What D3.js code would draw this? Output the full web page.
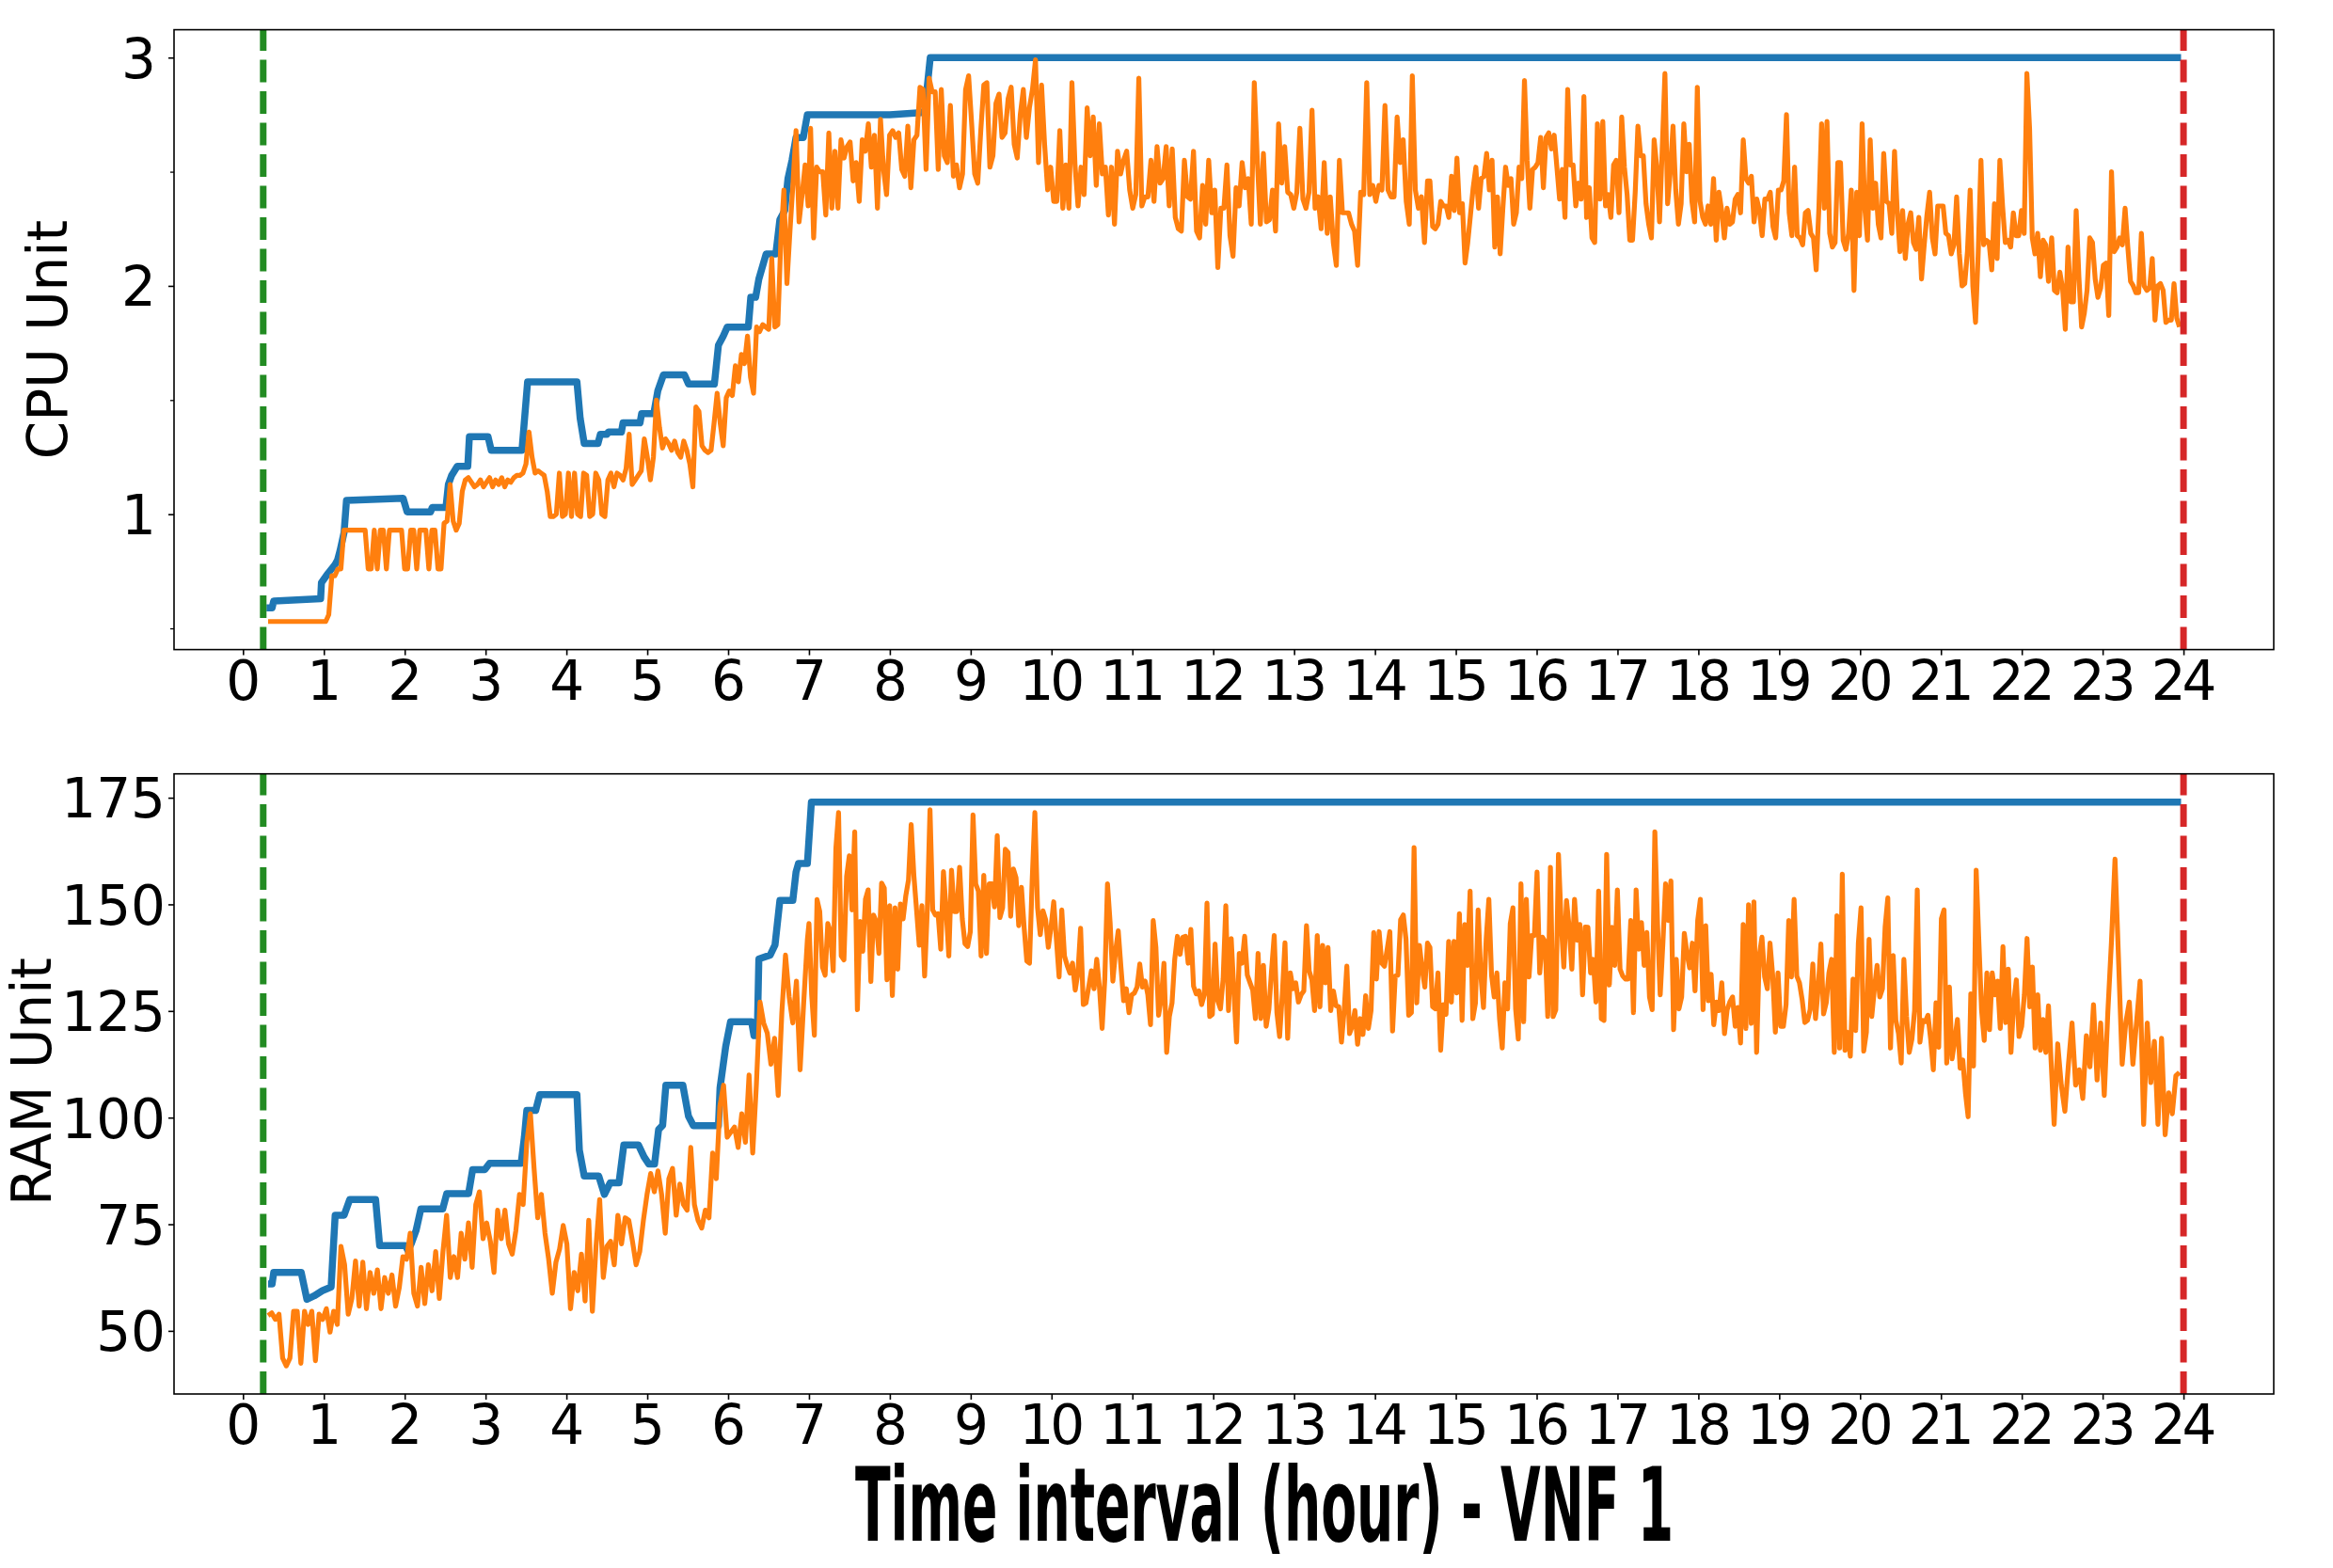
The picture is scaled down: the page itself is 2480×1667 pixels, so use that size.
<!DOCTYPE html>
<html>
<head>
<meta charset="utf-8">
<script src="https://cdnjs.cloudflare.com/ajax/libs/d3/7.8.5/d3.min.js"></script>
<style>
    body { margin: 0; background: #fff; }
    text { font-family: "DejaVu Sans", sans-serif; }
</style>
</head>
<body>
<script>
// ---------------------------------------------------------------------------
// VNF 1 - allocated capacity (blue) vs. measured usage (orange) over a day
// ---------------------------------------------------------------------------

// hour ticks on both x axes
var hourTicks = d3.range(0, 25);
// deployment start / end markers (hour)
var vnfStart = 0.25, vnfEnd = 24.0;

// allocated CPU, [hour, units] break points of the step curve
var cpuCap = [[0.29,0.59],[0.36,0.59],[0.38,0.62],[0.96,0.63],[0.97,0.70],[1.05,0.74],
    [1.14,0.78],[1.17,0.80],[1.20,0.84],[1.25,0.92],[1.28,1.06],[1.98,1.07],[2.03,1.01],
    [2.32,1.01],[2.34,1.03],[2.51,1.03],[2.54,1.13],[2.58,1.17],[2.65,1.21],[2.78,1.21],
    [2.80,1.34],[3.03,1.34],[3.07,1.28],[3.45,1.28],[3.52,1.58],[4.13,1.58],[4.17,1.42],
    [4.22,1.31],[4.39,1.31],[4.42,1.35],[4.50,1.35],[4.52,1.36],[4.68,1.36],[4.70,1.40],
    [4.91,1.40],[4.93,1.44],[5.08,1.44],[5.13,1.54],[5.20,1.61],[5.46,1.61],[5.51,1.57],
    [5.83,1.57],[5.88,1.74],[5.94,1.78],[5.99,1.82],[6.25,1.82],[6.28,1.95],[6.34,1.95],
    [6.38,2.03],[6.47,2.14],[6.59,2.14],[6.64,2.29],[6.70,2.33],[6.74,2.47],[6.79,2.55],
    [6.84,2.65],[6.93,2.65],[6.98,2.75],[8.00,2.75],[8.43,2.76],[8.50,3.00],[23.97,3.00]];

// measured CPU usage, read in four stretches (hour spans below)
var cpuSpans = [[0.31, 6.99], [7.02, 14.65], [14.68, 22.33], [22.37, 23.95]];
var cpuUseA = [0.53,0.53,0.53,0.53,0.53,0.53,0.53,0.53,0.53,0.53,
    0.53,0.53,0.53,0.53,0.53,0.53,0.53,0.53,0.53,0.53,
    0.56,0.73,0.73,0.76,0.76,0.93,
    0.93,0.93,0.93,0.93,0.93,0.93,0.93,0.76,0.76,0.93,0.76,0.93,0.93,0.76,0.93,0.93,
    0.93,0.93,0.93,0.76,0.76,0.93,0.93,0.76,0.93,0.93,0.93,0.76,0.93,0.93,0.76,0.76,
    0.96,0.97,1.13,0.97,0.93,0.96,1.10,1.15,
    1.16,1.14,1.12,1.13,1.15,1.12,1.14,1.16,1.12,1.15,1.13,1.16,1.12,1.15,1.14,1.16,1.17,1.17,
    1.18,1.22,1.36,1.25,1.18,1.19,1.18,1.17,1.10,0.99,
    0.99,1.00,1.18,0.99,1.00,1.18,0.99,1.18,1.00,0.99,1.18,1.17,0.99,1.00,1.18,1.15,1.00,
    0.99,1.15,1.18,1.12,
    1.18,1.17,1.15,1.20,1.35,1.13,1.15,1.17,1.19,1.33,1.25,1.15,1.25,1.50,1.38,1.29,1.33,
    1.31,1.28,1.32,1.27,1.25,1.32,1.28,1.22,1.12,
    1.47,1.45,1.30,1.28,1.27,1.28,1.40,1.53,1.40,1.30,1.51,1.54,1.52,1.65,1.58,1.70,1.66,
    1.78,1.60,1.53,
    1.82,1.80,1.83,1.82,1.81,2.12,1.82,1.83,2.20,2.42,2.01,2.24,2.45,2.68,2.28,2.40,2.53,2.35];
var cpuUseB = [2.69,2.21,2.52,2.50,2.50,2.31,2.67,2.34,2.59,2.34,
    2.64,2.56,2.61,2.63,2.46,2.54,2.37,2.64,2.59,2.71,
    2.52,2.66,2.34,2.73,2.51,2.40,2.66,2.68,2.65,2.67,
    2.51,2.48,2.70,2.43,2.64,2.66,2.87,2.86,2.51,2.91,
    2.85,2.85,2.51,2.86,2.57,2.54,2.79,2.48,2.53,2.43,
    2.49,2.86,2.92,2.71,2.49,2.45,2.68,2.88,2.89,2.52,
    2.57,2.80,2.84,2.65,2.67,2.82,2.87,2.62,2.56,2.75,
    2.86,2.65,2.78,2.86,2.99,2.54,2.88,2.62,2.42,2.52,
    2.37,2.37,2.68,2.34,2.53,2.34,2.89,2.53,2.35,2.52,
    2.40,2.78,2.57,2.74,2.44,2.71,2.49,2.52,2.31,2.52,
    2.27,2.59,2.49,2.55,2.59,2.42,2.34,2.40,2.91,2.35,
    2.39,2.39,2.55,2.37,2.61,2.45,2.47,2.61,2.35,2.60,
    2.30,2.25,2.24,2.55,2.39,2.38,2.59,2.24,2.21,2.44,
    2.27,2.55,2.32,2.42,2.08,2.34,2.34,2.53,2.22,2.13,
    2.43,2.35,2.54,2.43,2.47,2.27,2.89,2.55,2.27,2.58,
    2.28,2.29,2.42,2.24,2.71,2.45,2.61,2.41,2.40,2.34,
    2.41,2.69,2.38,2.34,2.41,2.77,2.34,2.39,2.25,2.54,
    2.23,2.39,2.19,2.09,2.55,2.32,2.32,2.32,2.27,2.24,
    2.09,2.41,2.40,2.89,2.40,2.44,2.37,2.44,2.42,2.79,
    2.42,2.39,2.39,2.74,2.54,2.64,2.37,2.27,2.92,2.42,
    2.34,2.39,2.19,2.46];
var cpuUseC = [2.46,2.26,2.25,2.27,2.37,2.35,2.35,2.30,2.48,2.33,
    2.56,2.32,2.36,2.10,2.19,2.31,2.43,2.52,2.34,2.47,
    2.48,2.58,2.42,2.55,2.17,2.39,2.14,2.34,2.52,2.44,
    2.47,2.27,2.32,2.52,2.47,2.90,2.55,2.34,2.51,2.52,
    2.54,2.65,2.43,2.65,2.67,2.60,2.66,2.52,2.38,2.51,
    2.30,2.86,2.53,2.53,2.35,2.45,2.38,2.83,2.30,2.43,
    2.21,2.19,2.71,2.38,2.72,2.35,2.40,2.30,2.53,2.55,
    2.32,2.74,2.52,2.40,2.20,2.20,2.41,2.70,2.57,2.57,
    2.36,2.27,2.21,2.64,2.52,2.28,2.60,2.93,2.36,2.50,
    2.70,2.42,2.27,2.36,2.71,2.50,2.62,2.37,2.28,2.87,
    2.37,2.30,2.27,2.35,2.27,2.47,2.20,2.41,2.33,2.21,
    2.34,2.27,2.28,2.38,2.40,2.32,2.64,2.47,2.45,2.48,
    2.28,2.38,2.33,2.22,2.38,2.38,2.41,2.26,2.21,2.42,
    2.42,2.46,2.75,2.32,2.22,2.52,2.22,2.21,2.18,2.32,
    2.33,2.23,2.21,2.07,2.34,2.71,2.34,2.72,2.23,2.17,
    2.19,2.54,2.54,2.20,2.16,2.23,2.42,1.98,2.41,2.22,
    2.71,2.34,2.20,2.64,2.34,2.45,2.27,2.21,2.58,2.37,
    2.36,2.23,2.59,2.33,2.15,2.33,2.12,2.27,2.32,2.19,
    2.16,2.30,2.03,2.18,2.31,2.41,2.21,2.14,2.35,2.35,
    2.35,2.23,2.22,2.14,2.18,2.39,2.14,2.00,2.01,2.15,
    2.42,2.00,1.84,2.15,2.55,2.18,2.20,2.19,2.07,2.36,
    2.12,2.55,2.35,2.19,2.20,2.17,2.32,2.22,2.22,2.33,
    2.23,2.93,2.69,2.21,2.14,2.23,2.04,2.20,2.18,2.02];
var cpuUseD = [2.21,1.98,1.97,2.06,1.99,1.81,2.17,1.93,1.93,2.33,
    2.04,1.82,1.88,1.98,2.21,2.19,2.03,1.95,1.99,2.09,
    2.10,1.87,2.50,2.15,2.17,2.21,2.18,2.34,2.17,2.02,
    2.00,1.97,1.97,2.23,2.00,1.98,1.99,2.12,1.85,2.00,
    2.01,1.98,1.84,1.85,1.85,2.01,1.86,1.82];

// allocated RAM, [hour, units] break points of the step curve
var ramCap = [[0.31,61.0],[0.36,61.0],[0.38,63.7],[0.72,63.7],[0.79,57.4],[0.88,58.2],
    [0.98,59.4],[1.09,60.3],[1.14,77.1],[1.25,77.1],[1.32,80.8],[1.64,80.8],[1.69,70.0],
    [2.01,70.0],[2.04,68.8],[2.08,70.4],[2.14,73.5],[2.20,78.6],[2.47,78.6],[2.52,82.2],
    [2.79,82.2],[2.84,87.8],[2.99,87.8],[3.05,89.3],[3.44,89.3],[3.48,95.4],[3.51,101.7],
    [3.62,101.7],[3.67,105.4],[4.13,105.4],[4.16,92.4],[4.22,86.3],[4.40,86.3],[4.47,82.0],
    [4.54,84.7],[4.65,84.7],[4.71,93.6],[4.89,93.6],[4.96,90.8],[5.02,89.1],[5.09,89.1],
    [5.14,97.2],[5.19,98.2],[5.23,107.6],[5.44,107.6],[5.51,100.3],[5.57,98.1],[5.88,98.1],
    [5.90,107.0],[5.97,116.7],[6.03,122.5],[6.29,122.5],[6.32,119.2],[6.36,119.2],
    [6.38,137.2],[6.52,138.1],[6.58,140.5],[6.64,150.9],[6.80,150.9],[6.84,157.6],
    [6.87,159.6],[6.98,159.6],[7.03,174.0],[23.97,174.0]];

// measured RAM usage, read in four stretches (hour spans below)
var ramSpans = [[0.31, 6.98], [7.0, 14.65], [14.68, 22.33], [22.40, 23.95]];
var ramUseA = [53.6,54.2,52.7,53.9,43.6,41.8,43.6,54.6,54.6,42.4,
    54.6,51.5,54.6,43.0,53.9,52.7,55.2,49.7,54.6,51.5,
    69.8,65.5,53.9,57.6,66.4,55.8,66.1,55.2,63.7,58.8,
    64.3,55.2,62.5,58.8,63.1,55.8,60.1,67.4,66.8,72.9,
    58.8,55.8,64.9,56.4,65.5,59.4,68.6,57.6,68.6,77.1,
    62.5,67.4,62.5,72.9,66.8,75.3,64.9,79.6,82.6,71.6,
    75.3,71.0,63.7,78.3,71.6,78.3,70.4,68.0,73.5,82.0,
    79.6,94.2,100.9,88.1,76.5,82.0,72.9,66.8,58.8,66.1,
    69.2,74.7,70.4,55.2,63.7,59.4,68.0,57.0,75.9,54.6,
    69.8,80.8,62.5,69.8,71.0,65.5,77.1,70.4,76.5,75.9,
    71.0,65.5,68.6,75.9,82.0,86.9,82.6,87.5,82.0,72.9,
    85.7,88.1,77.1,84.4,79.6,78.3,93.0,79.6,75.9,74.1,
    78.3,76.5,91.7,85.7,102.7,107.6,95.4,96.6,97.8,93.0,
    100.9,94.2,110.0,91.7,107.6,127.1,122.2,119.8,112.5,118.6,
    105.2,124.7,138.1,128.3,122.2,132.0,111.2,127.1,141.7];
var ramUseB = [145.5,128.8,119.3,151.1,148.3,135.3,133.4,145.5,143.6,134.4,
    163.1,171.5,137.9,137.0,156.6,161.4,148.7,167.0,125.3,146.0,
    139.0,151.2,153.4,131.9,147.5,146.0,138.5,155.0,153.8,132.3,
    149.7,128.6,149.2,134.8,150.1,146.6,152.0,155.7,168.7,156.8,
    148.7,140.4,149.7,133.2,148.7,172.2,148.7,147.5,147.8,139.5,
    157.7,148.7,137.9,158.0,148.3,148.3,158.7,146.6,140.8,140.1,
    143.6,171.0,154.8,153.1,137.9,156.8,138.5,154.8,154.8,149.4,
    166.1,146.9,149.2,162.9,162.2,147.2,158.3,156.2,145.0,154.0,
    144.6,136.7,136.2,155.7,171.5,149.2,142.9,148.5,146.4,139.9,
    144.6,150.6,141.8,133.0,148.7,137.9,135.7,133.9,136.2,129.9,
    133.9,144.4,126.5,126.9,130.6,134.4,130.2,137.1,130.6,120.9,
    132.5,154.8,145.5,132.0,139.0,143.8,135.3,127.4,130.2,124.6,
    128.8,129.2,130.6,136.0,130.6,132.0,128.8,121.8,146.2,139.9,
    124.0,127.9,136.2,115.3,123.7,126.9,137.1,142.5,138.3,142.3,
    142.5,136.2,144.1,130.8,129.0,129.7,126.5,128.8,150.3,123.7,
    124.2,140.7,127.4,125.5,132.5,149.7,125.1,142.0,129.7,117.7,
    138.5,136.2,142.5,133.4,131.6,129.9,123.2,138.5,123.2,135.7,
    121.4,125.3,134.4,142.7,124.6,119.0,128.8,141.0,118.6,133.9,
    130.2,131.6,127.1,128.8,129.7,145.0,134.4,132.3,125.1,142.7,
    126.0,140.4,131.6,139.9,125.1,129.7,126.2,126.0,117.7,125.1,
    135.5,119.7,121.4,125.1,117.2,123.2,119.5,128.6,120.9,125.1,
    143.4,132.5,143.6,136.2,135.5,139.5,143.6,120.3,133.2,133.4,
    146.4,147.5,141.8,124.0,124.6,163.3,126.9,140.4,134.8,130.6,
    140.9];
var ramUseC = [139.9,126.0,125.5,133.9,115.8,126.5,124.2,141.3,127.1,141.3,
    129.2,147.8,122.8,145.3,135.7,153.1,123.2,126.9,148.7,133.4,
    125.8,141.8,151.2,133.4,128.3,133.9,123.2,116.3,131.6,125.5,
    145.5,149.2,125.5,118.4,154.8,122.5,151.2,133.0,142.7,142.7,
    157.6,133.9,142.3,141.3,123.7,158.7,123.7,125.3,161.7,146.0,
    135.3,150.9,144.6,134.8,151.2,141.6,145.3,128.8,144.7,144.6,
    133.9,137.1,127.1,153.1,123.2,122.8,161.7,131.1,144.6,135.7,
    153.4,134.8,133.2,132.5,132.5,146.2,124.6,153.4,139.5,145.7,
    135.7,143.4,128.3,125.3,167.0,145.5,128.8,140.9,154.8,146.2,
    155.5,120.6,137.1,125.5,128.3,143.2,138.5,135.1,140.9,129.7,
    146.2,151.2,125.3,145.0,127.4,133.6,121.8,127.1,125.1,131.6,
    119.7,125.3,127.1,128.3,121.4,125.8,117.5,145.3,120.9,149.9,
    122.1,150.6,115.3,138.0,142.3,133.0,130.2,140.9,133.4,120.0,
    133.9,121.4,121.4,126.5,146.2,133.0,151.2,133.2,131.6,127.7,
    122.3,122.8,125.3,136.0,123.2,130.2,140.7,124.3,126.9,133.9,
    137.1,115.3,147.3,116.3,157.1,115.8,120.0,114.4,132.5,120.4,
    140.9,149.2,115.6,120.0,141.8,123.7,130.2,135.7,128.3,130.2,
    144.7,151.5,116.3,138.0,122.8,119.7,112.8,137.1,123.7,115.3,
    118.4,125.1,153.4,117.7,122.8,122.5,124.0,118.4,111.2,126.9,
    116.5,146.6,148.7,112.8,130.6,113.8,118.1,123.0,111.6,113.5,
    105.8,100.2,129.0,112.1,158.0,141.3,125.3,118.1,133.9,120.6,
    133.9,128.8,132.0,120.9,140.1,122.3,134.8,115.3,126.9,132.3,
    119.0,121.4,128.8,142.0,126.0,135.3,116.3,128.8,115.8,123.0,
    115.3,126.2];
var ramUseD = [98.4,117.3,107.6,101.5,112.5,122.2,107.6,111.2,104.5,119.2,
    111.9,126.5,108.8,122.2,105.2,124.7,141.1,160.6,136.8,112.5,
    122.2,127.1,112.5,122.2,132.0,98.4,122.2,108.2,117.9,98.4,
    118.6,96.0,105.8,100.9,109.8,110.6];

// ---------------------------------------------------------------------------
var width = 2480, height = 1667;
var left = 185, right = 2417;

var svg = d3.select("body").append("svg")
    .attr("width", width)
    .attr("height", height)
    .style("display", "block");

svg.append("rect")
    .attr("width", width)
    .attr("height", height)
    .attr("fill", "#fff");

// shared hour scale
var x = d3.scaleLinear()
    .domain([-0.853, 25.116])
    .range([left, right]);

// spread each stretch of readings evenly over its hour span
function toPoints(parts, spans) {
    var pts = [];
    parts.forEach(function(vals, k) {
        var t = d3.scaleLinear().domain([0, vals.length - 1]).range(spans[k]);
        vals.forEach(function(v, i) { pts.push([t(i), v]); });
    });
    return pts;
}

var panels = [
    {id: "cpu", top: 31.6, bottom: 690.6, domain: [0.407, 3.122],
     ticks: [1, 2, 3], minor: [0.5, 1.5, 2.5], pad: 13,
     label: "CPU Unit", labelX: 71, labelY: 361,
     cap: cpuCap, use: toPoints([cpuUseA, cpuUseB, cpuUseC, cpuUseD], cpuSpans)},
    {id: "ram", top: 822.7, bottom: 1482, domain: [35.2, 180.6],
     ticks: [50, 75, 100, 125, 150, 175], minor: [], pad: 3,
     label: "RAM Unit", labelX: 54, labelY: 1150,
     cap: ramCap, use: toPoints([ramUseA, ramUseB, ramUseC, ramUseD], ramSpans)}
];

panels.forEach(function(p) {
    var y = d3.scaleLinear().domain(p.domain).range([p.bottom, p.top]);
    var g = svg.append("g");

    g.append("clipPath").attr("id", "clip-" + p.id)
        .append("rect")
        .attr("x", left).attr("y", p.top)
        .attr("width", right - left).attr("height", p.bottom - p.top);

    var line = d3.line()
        .x(function(d) { return x(d[0]); })
        .y(function(d) { return y(d[1]); });

    var plot = g.append("g").attr("clip-path", "url(#clip-" + p.id + ")");

    // capacity
    plot.append("path")
        .datum(p.cap)
        .attr("d", line)
        .attr("fill", "none")
        .attr("stroke", "#1f77b4")
        .attr("stroke-width", 7.5)
        .attr("stroke-linejoin", "round");

    // usage
    plot.append("path")
        .datum(p.use)
        .attr("d", line)
        .attr("fill", "none")
        .attr("stroke", "#ff7f0e")
        .attr("stroke-width", 5.2)
        .attr("stroke-linejoin", "round");

    // start / end markers, dashes start at the bottom like axvline
    [[vnfStart, "#228b22"], [vnfEnd, "#d62728"]].forEach(function(m) {
        plot.append("line")
            .attr("x1", x(m[0])).attr("x2", x(m[0]))
            .attr("y1", p.bottom).attr("y2", p.top)
            .attr("stroke", m[1])
            .attr("stroke-width", 7)
            .attr("stroke-dasharray", "24,9.5");
    });

    // y axis
    var yAxis = g.append("g")
        .attr("transform", "translate(" + left + ",0)")
        .call(d3.axisLeft(y).tickValues(p.ticks).tickSize(6).tickPadding(p.pad)
            .tickFormat(d3.format("d")));
    yAxis.select(".domain").remove();
    yAxis.selectAll("line").attr("stroke", "#000").attr("stroke-width", 1.6);
    yAxis.selectAll("text")
        .attr("dy", "0.36em")
        .attr("font-size", 58)
        .attr("font-family", "DejaVu Sans")
        .attr("fill", "#000");

    if (p.minor.length) {
        var mAxis = g.append("g")
            .attr("transform", "translate(" + left + ",0)")
            .call(d3.axisLeft(y).tickValues(p.minor).tickSize(4).tickFormat(""));
        mAxis.select(".domain").remove();
        mAxis.selectAll("line").attr("stroke", "#000").attr("stroke-width", 1.3);
    }

    // x axis
    var xAxis = g.append("g")
        .attr("transform", "translate(0," + p.bottom + ")")
        .call(d3.axisBottom(x).tickValues(hourTicks).tickSize(6));
    xAxis.select(".domain").remove();
    xAxis.selectAll("line").attr("stroke", "#000").attr("stroke-width", 1.6);
    xAxis.selectAll("text")
        .attr("y", 53)
        .attr("dy", null)
        .attr("dx", "-2px")
        .attr("letter-spacing", "-4px")
        .attr("font-size", 58)
        .attr("font-family", "DejaVu Sans")
        .attr("fill", "#000");

    // frame
    g.append("rect")
        .attr("x", left).attr("y", p.top)
        .attr("width", right - left).attr("height", p.bottom - p.top)
        .attr("fill", "none")
        .attr("stroke", "#000")
        .attr("stroke-width", 1.6);

    // y label
    g.append("text")
        .attr("transform", "translate(" + p.labelX + "," + p.labelY + ") rotate(-90)")
        .attr("text-anchor", "middle")
        .attr("font-size", 58)
        .attr("fill", "#000")
        .text(p.label);
});

// shared x label, narrow and tall like the original
svg.append("text")
    .attr("x", 1344)
    .attr("y", 1638)
    .attr("text-anchor", "middle")
    .attr("font-size", 108)
    .attr("font-weight", "bold")
    .attr("textLength", 870)
    .attr("lengthAdjust", "spacingAndGlyphs")
    .attr("fill", "#000")
    .text("Time interval (hour) - VNF 1");
</script>
</body>
</html>
